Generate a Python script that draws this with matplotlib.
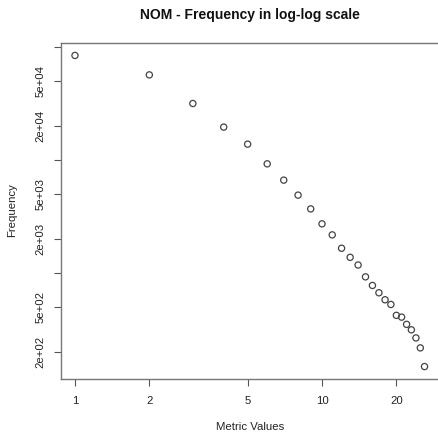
import numpy as np
import matplotlib.pyplot as plt

# dados
metric_values = list(range(1, 27))
frequency = [84400, 56800, 31700, 19600, 13850, 9270, 6650, 4900, 3700, 2730,
             2180, 1660, 1380, 1180, 927, 778, 670, 581, 528, 423,
             408, 352, 315, 267, 218, 149]

x_ticks = [1, 2, 5, 10, 20]
x_labels = ["1", "2", "5", "10", "20"]
y_ticks = [1e5, 5e4, 2e4, 1e4, 5e3, 2e3, 1e3, 5e2, 2e2]
y_labels = ["", "5e+04", "2e+04", "", "5e+03", "2e+03", "", "5e+02", "2e+02"]

plt.rcParams['font.family'] = ['Liberation Sans', 'DejaVu Sans']

fig = plt.figure(figsize=(4.38, 4.32), dpi=100)
ax = fig.add_axes([61 / 438, 53 / 432, 377.5 / 438, 336 / 432])

ax.scatter(metric_values, frequency, s=20, facecolors='none',
           edgecolors='#444444', linewidths=0.9)

ax.set_xscale('log')
ax.set_yscale('log')

# faixa com extensao de 4% como no R
lx = np.log10([min(metric_values), max(metric_values)])
ly = np.log10([min(frequency), max(frequency)])
dx = (lx[1] - lx[0]) * 0.04
dy = (ly[1] - ly[0]) * 0.04
ax.set_xlim(10 ** (lx[0] - dx), 10 ** (lx[1] + dx))
ax.set_ylim(10 ** (ly[0] - dy), 10 ** (ly[1] + dy))

ax.minorticks_off()
ax.set_xticks(x_ticks, x_labels)
ax.set_yticks(y_ticks, y_labels, rotation=90, va='center')
ax.minorticks_off()

ax.tick_params(axis='both', direction='out', length=5, width=0.8,
               color='#555555', labelsize=8.2, labelcolor='#222222')
ax.tick_params(axis='x', pad=7)
ax.tick_params(axis='y', pad=6)
for sp in ax.spines.values():
    sp.set_color('#777777')
    sp.set_linewidth(1.0)

fig.text(250 / 438, 1 - 15 / 432, "NOM - Frequency in log-log scale",
         ha='center', va='center', fontsize=10, fontweight='bold', color='#111111')
fig.text(250 / 438, 1 - 427 / 432, "Metric Values", ha='center', va='center',
         fontsize=8.2, color='#222222')
fig.text(12 / 438, 1 - 210 / 432, "Frequency", ha='center', va='center',
         rotation=90, fontsize=8.2, color='#222222')

fig.savefig('out.png', dpi=100)
